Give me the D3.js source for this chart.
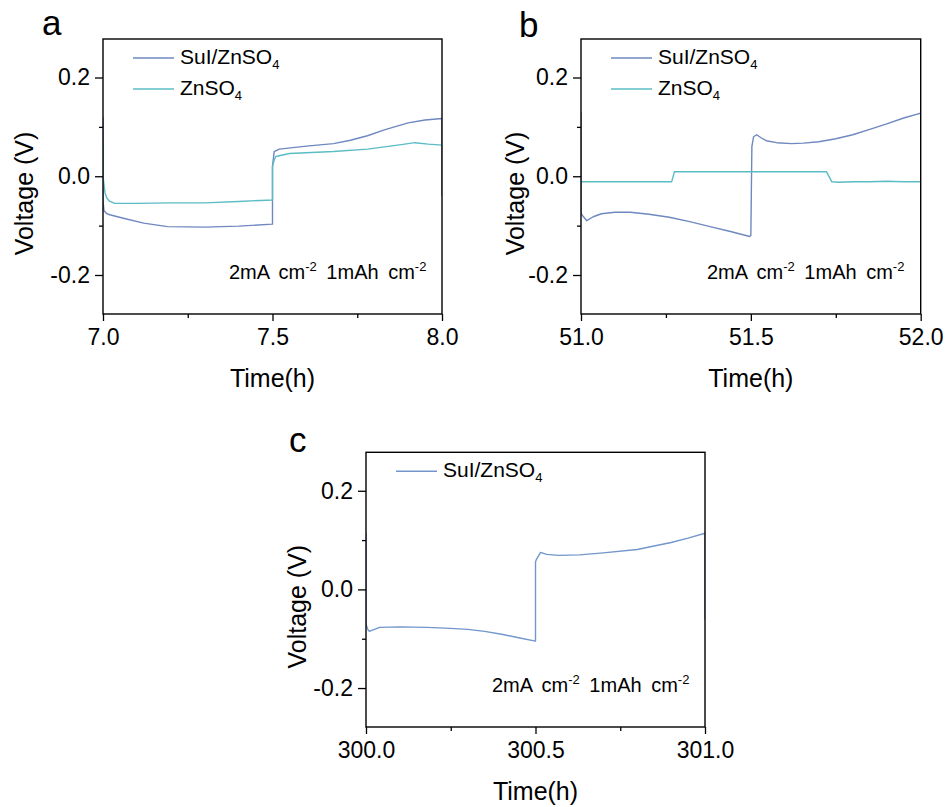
<!DOCTYPE html>
<html>
  <head>
    <title>Voltage profiles</title>
    <meta charset="utf-8">
    <script src="https://d3js.org/d3.v7.min.js"></script>
    <style>
      body { margin: 0; background: #fff; }
      text { font-family: "Liberation Sans", Arial, sans-serif; fill: #000; }
    </style>
  </head>
  <body>
    <div id="chart"></div>
    <script>
    // panel a : 7-8 h
    var aSulTime = [7.0, 7.0, 7.003, 7.01, 7.02, 7.06, 7.12, 7.19, 7.3, 7.4, 7.5, 7.5, 7.505, 7.52, 7.6, 7.68, 7.73, 7.78, 7.83, 7.9, 7.95, 8.0, 8.0];
    var aSulVolt = [0.12, -0.05, -0.07, -0.075, -0.078, -0.085, -0.095, -0.102, -0.103, -0.101, -0.097, 0.02, 0.05, 0.055, 0.061, 0.066, 0.073, 0.082, 0.094, 0.108, 0.114, 0.117, -0.04];
    var aZnTime = [7.0, 7.0, 7.006, 7.012, 7.02, 7.035, 7.1, 7.2, 7.3, 7.4, 7.5, 7.5, 7.505, 7.51, 7.55, 7.68, 7.78, 7.88, 7.92, 7.96, 8.0];
    var aZnVolt = [0.07, 0.0, -0.034, -0.045, -0.051, -0.055, -0.055, -0.054, -0.054, -0.051, -0.048, 0.02, 0.033, 0.04, 0.046, 0.05, 0.055, 0.064, 0.068, 0.065, 0.063];

    // panel b : 51-52 h
    var bSulTime = [51.0, 51.0, 51.005, 51.017, 51.036, 51.06, 51.1, 51.145, 51.2, 51.26, 51.32, 51.38, 51.44, 51.497, 51.5, 51.503, 51.508, 51.517, 51.53, 51.545, 51.576, 51.62, 51.655, 51.7, 51.75, 51.8, 51.85, 51.9, 51.95, 52.0, 52.0];
    var bSulVolt = [0.13, -0.075, -0.08, -0.09, -0.082, -0.076, -0.073, -0.073, -0.077, -0.083, -0.092, -0.102, -0.112, -0.122, -0.12, 0.06, 0.08, 0.084, 0.078, 0.072, 0.068, 0.066, 0.067, 0.07, 0.076, 0.084, 0.095, 0.106, 0.118, 0.128, -0.075];
    var bZnTime = [51.0, 51.267, 51.275, 51.723, 51.738, 51.76, 51.8, 51.85, 51.9, 51.95, 52.0];
    var bZnVolt = [-0.011, -0.011, 0.009, 0.009, -0.011, -0.012, -0.011, -0.011, -0.01, -0.011, -0.011];

    // panel c : 300-301 h
    var cSulTime = [300.0, 300.0, 300.005, 300.01, 300.04, 300.1, 300.18, 300.25, 300.3, 300.35, 300.4, 300.45, 300.5, 300.5, 300.502, 300.515, 300.533, 300.57, 300.63, 300.7, 300.8, 300.9, 300.95, 301.0, 301.0];
    var cSulVolt = [0.115, -0.07, -0.081, -0.085, -0.077, -0.076, -0.077, -0.079, -0.081, -0.085, -0.091, -0.098, -0.105, 0.055, 0.06, 0.075, 0.071, 0.069, 0.07, 0.074, 0.081, 0.095, 0.104, 0.114, -0.061];

    var yTicks = [-0.2, 0.0, 0.2];
    var yMinor = [-0.1, 0.1];
    var yDomain = [-0.279, 0.278];

    var sulColor = "#6f88c0";
    var znColor = "#5bbcc4";

    var svg = d3.select("#chart").append("svg")
      .attr("width", 947)
      .attr("height", 807);

    function zip(t, v) {
      return t.map(function(d, i) { return {t: d, v: v[i]}; });
    }

    // one framed plot
    function panel(p) {
      var x = d3.scaleLinear().domain(p.xDomain).range([p.left, p.right]);
      var y = d3.scaleLinear().domain(yDomain).range([p.bottom, p.top]);
      var g = svg.append("g");

      g.append("clipPath").attr("id", "clip" + p.letter)
        .append("rect")
        .attr("x", p.left).attr("y", p.top)
        .attr("width", p.right - p.left).attr("height", p.bottom - p.top);

      var line = d3.line().x(function(d) { return x(d.t); }).y(function(d) { return y(d.v); });

      p.series.forEach(function(s) {
        g.append("path")
          .datum(zip(s.t, s.v))
          .attr("clip-path", "url(#clip" + p.letter + ")")
          .attr("fill", "none")
          .attr("stroke", s.color)
          .attr("stroke-width", 1.4)
          .attr("stroke-linejoin", "round")
          .attr("d", line);
      });

      // axes
      var xMajor = [p.xDomain[0], (p.xDomain[0] + p.xDomain[1]) / 2, p.xDomain[1]];
      var xMinor = [p.xDomain[0] + 0.25, p.xDomain[0] + 0.75];
      var fmt = function(d) { return d.toFixed(1); };

      g.append("g").attr("transform", "translate(0," + p.bottom + ")")
        .call(d3.axisBottom(x).tickValues(xMajor).tickFormat(fmt).tickSize(7).tickSizeOuter(0).tickPadding(8));
      g.append("g").attr("transform", "translate(0," + p.bottom + ")")
        .call(d3.axisBottom(x).tickValues(xMinor).tickFormat("").tickSize(4).tickSizeOuter(0));
      g.append("g").attr("transform", "translate(" + p.left + ",0)")
        .call(d3.axisLeft(y).tickValues(yTicks).tickFormat(fmt).tickSize(8).tickSizeOuter(0).tickPadding(5));
      g.append("g").attr("transform", "translate(" + p.left + ",0)")
        .call(d3.axisLeft(y).tickValues(yMinor).tickFormat("").tickSize(4).tickSizeOuter(0));

      g.selectAll(".domain").remove();
      g.selectAll(".tick line").attr("stroke", "#000").attr("stroke-width", 1.3);
      g.selectAll(".tick text").style("font-size", "23px").attr("fill", "#000")
        .style("font-family", "'Liberation Sans', Arial, sans-serif");

      g.append("rect")
        .attr("x", p.left).attr("y", p.top)
        .attr("width", p.right - p.left).attr("height", p.bottom - p.top)
        .attr("fill", "none").attr("stroke", "#000").attr("stroke-width", 1.4);

      // titles
      g.append("text")
        .attr("x", (p.left + p.right) / 2).attr("y", p.bottom + 73)
        .attr("text-anchor", "middle").style("font-size", "25px")
        .text("Time(h)");
      var cy = (p.top + p.bottom) / 2 + 17;
      g.append("text")
        .attr("transform", "translate(" + (p.left - p.yTitleOff) + "," + cy + ") rotate(-90)")
        .attr("text-anchor", "middle").attr("dy", "0.35em").style("font-size", "25px")
        .text("Voltage (V)");

      g.append("text")
        .attr("x", p.letterX).attr("y", p.letterY)
        .style("font-size", "35px")
        .text(p.letter);

      // legend
      p.series.forEach(function(s, i) {
        var ly = p.top + 19 + i * 31;
        g.append("line")
          .attr("x1", p.left + 30).attr("x2", p.left + 71)
          .attr("y1", ly).attr("y2", ly)
          .attr("stroke", s.color).attr("stroke-width", 1.6);
        var t = g.append("text")
          .attr("x", p.left + 77).attr("y", ly + 6)
          .style("font-size", "21px");
        t.append("tspan").text(s.name);
        t.append("tspan").attr("dy", 5).style("font-size", "13px").text("4");
      });

      // current density note
      var note = g.append("text")
        .attr("x", p.left + 126).attr("y", p.bottom - 35)
        .style("font-size", "20px")
        .style("word-spacing", "4px");
      note.append("tspan").text("2mA cm");
      note.append("tspan").attr("dy", -8).style("font-size", "13px").text("-2");
      note.append("tspan").attr("dy", 8).text(" 1mAh cm");
      note.append("tspan").attr("dy", -8).style("font-size", "13px").text("-2");
    }

    panel({
      letter: "a", letterX: 42, letterY: 35, yTitleOff: 79,
      left: 103, right: 442, top: 39, bottom: 314, xDomain: [7.0, 8.0],
      series: [
        {name: "SuI/ZnSO", t: aSulTime, v: aSulVolt, color: sulColor},
        {name: "ZnSO", t: aZnTime, v: aZnVolt, color: znColor}
      ]
    });

    panel({
      letter: "b", letterX: 519, letterY: 37, yTitleOff: 66,
      left: 581, right: 920.7, top: 39, bottom: 314, xDomain: [51.0, 52.0],
      series: [
        {name: "SuI/ZnSO", t: bSulTime, v: bSulVolt, color: sulColor},
        {name: "ZnSO", t: bZnTime, v: bZnVolt, color: znColor}
      ]
    });

    panel({
      letter: "c", letterX: 289, letterY: 452, yTitleOff: 69,
      left: 366, right: 705, top: 452.3, bottom: 727, xDomain: [300.0, 301.0],
      series: [
        {name: "SuI/ZnSO", t: cSulTime, v: cSulVolt, color: "#7396cc"}
      ]
    });
    </script>
  </body>
</html>
